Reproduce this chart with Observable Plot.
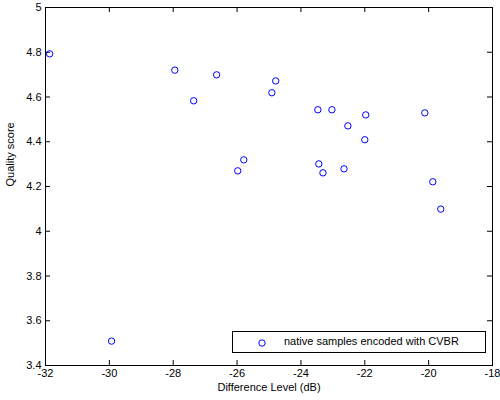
<!DOCTYPE html>
<html>
<head>
<meta charset="utf-8">
<script src="https://cdn.jsdelivr.net/npm/d3@7"></script>
<script src="https://cdn.jsdelivr.net/npm/@observablehq/plot@0.6"></script>
<style>
  body { margin: 0; background: #fff; }
  #wrap { position: relative; width: 500px; height: 400px; font-family: "Liberation Sans", Arial, sans-serif; }
  #legend { position: absolute; left: 232px; top: 331px; width: 252px; height: 20px; border: 1px solid #000; background: #fff; font-size: 11px; }
  #legend svg { position: absolute; left: 24px; top: 6px; }
  #legend span { position: absolute; left: 51px; top: 3px; white-space: nowrap; }
</style>
</head>
<body>
<div id="wrap"></div>
<script>
const diffLevel = [-31.87, -27.95, -27.36, -26.64, -25.98, -25.79, -24.79, -24.91, -23.47, -23.03,
                   -21.97, -22.53, -22.0, -20.12, -23.44, -23.31, -22.65, -19.87, -19.62, -29.93];
const quality   = [4.793, 4.72, 4.583, 4.699, 4.27, 4.319, 4.672, 4.619, 4.543, 4.543,
                   4.52, 4.471, 4.409, 4.529, 4.301, 4.261, 4.279, 4.221, 4.099, 3.509];
const xTicks = [-32, -30, -28, -26, -24, -22, -20, -18];
const yTicks = [3.4, 3.6, 3.8, 4, 4.2, 4.4, 4.6, 4.8, 5];
const seriesName = "native samples encoded with CVBR";
const xLabel = "Difference Level (dB)";
const yLabel = "Quality score";

const data = diffLevel.map((x, i) => ({x, y: quality[i]}));

const W = 500, H = 400, mL = 45, mR = 8, mT = 7, mB = 35;
const pw = W - mL - mR, ph = H - mT - mB, tl = 5;

const chart = Plot.plot({
  width: W, height: H,
  marginLeft: mL, marginRight: mR, marginTop: mT, marginBottom: mB,
  style: {fontFamily: "Liberation Sans, Arial, sans-serif", fontSize: "11px", background: "#fff", color: "#000"},
  x: {domain: [-32, -18], ticks: xTicks},
  y: {domain: [3.4, 5], ticks: yTicks},
  marks: [
    Plot.frame({stroke: "#000", strokeWidth: 1}),
    Plot.tickX(xTicks, {x: d => d, insetBottom: ph - tl, stroke: "#000"}),
    Plot.tickX(xTicks, {x: d => d, insetTop: ph - tl, stroke: "#000"}),
    Plot.tickY(yTicks, {y: d => d, insetRight: pw - tl, stroke: "#000"}),
    Plot.tickY(yTicks, {y: d => d, insetLeft: pw - tl, stroke: "#000"}),
    Plot.axisX({ticks: xTicks, tickSize: 0, tickPadding: 4, tickFormat: d => String(d), label: null}),
    Plot.axisY({ticks: yTicks, tickSize: 0, tickPadding: 4, tickFormat: d => String(d), label: null}),
    Plot.text([xLabel], {text: d => d, frameAnchor: "bottom", dy: 25, fontSize: 11}),
    Plot.text([yLabel], {text: d => d, frameAnchor: "left", dx: -35, rotate: -90, fontSize: 11}),
    Plot.dot(data, {x: "x", y: "y", r: 3.2, stroke: "#0000ff", strokeWidth: 1, fill: "none"})
  ]
});

const wrap = document.getElementById("wrap");
wrap.appendChild(chart);
const leg = document.createElement("div");
leg.id = "legend";
leg.innerHTML = `<svg width="10" height="10"><circle cx="5" cy="5" r="3.2" fill="none" stroke="#0000ff" stroke-width="1"/></svg><span>${seriesName}</span>`;
wrap.appendChild(leg);
</script>
</body>
</html>
